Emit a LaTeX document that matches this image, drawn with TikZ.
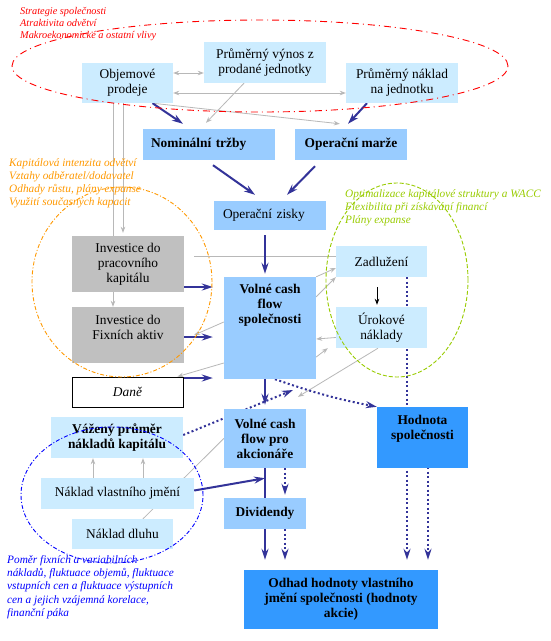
\documentclass[tikz,border=0pt]{standalone}
\usepackage{fontspec}
\setmainfont{Liberation Serif}
\usetikzlibrary{arrows.meta,calc,backgrounds}
\definecolor{lblue}{HTML}{CCECFF}
\definecolor{mblue}{HTML}{99CCFF}
\definecolor{dblue}{HTML}{3399FF}
\definecolor{gbox}{HTML}{C0C0C0}
\definecolor{lgray}{HTML}{B8B8B8}
\definecolor{navy}{HTML}{333399}
\definecolor{orng}{HTML}{FF9900}
\definecolor{lgreen}{HTML}{99CC00}
\newcommand\mf{\fontsize{13.4}{15}\selectfont}
\newcommand\mfb{\fontsize{13.4}{15}\selectfont\bfseries}
\newcommand\notef{\fontsize{11.3}{13.3}\selectfont\itshape}
\newcommand\noter{\fontsize{10.3}{12}\selectfont\itshape}
\begin{document}
\begin{tikzpicture}[x=1pt,y=-1pt,
  box/.style={inner sep=0pt, align=center, font=\mf},
  lb/.style={box, fill=lblue},
  mb/.style={box, fill=mblue, font=\mfb},
  db/.style={box, fill=dblue, font=\mfb},
  gb/.style={box, fill=gbox},
  sz/.style 2 args={minimum width=#1, minimum height=#2},
  note/.style={inner sep=0pt, align=left, anchor=north west, font=\notef},
  gline/.style={draw=lgray, line width=0.8pt},
  garr/.style={gline, -{Stealth[length=6pt,width=4.5pt]}},
  gdbl/.style={gline, {Stealth[length=6pt,width=4.5pt]}-{Stealth[length=6pt,width=4.5pt]}},
  barr/.style={draw=navy, line width=2pt, -{Stealth[length=11pt,width=7pt]}},
  bdot/.style={draw=navy, line width=2pt, dash pattern=on 2pt off 2.5pt, -{Stealth[length=11pt,width=7pt]}},
]
\useasboundingbox (0,0) rectangle (550,641);

% boxes
\node[lb, sz={91}{40}] (obj) at (127.5,83) {Objemové\\prodeje};
\node[lb, sz={122}{41}] (vynos) at (265,62.5) {Průměrný výnos z\\prodané jednotky};
\node[lb, sz={112}{40}] (naklad) at (402,83) {Průměrný náklad\\na jednotku};
\node[mb, inner xsep=8pt, text width=116pt, align=left, minimum height=31] (trzby) at (209,144.5) {Nominální tržby};
\node[mb, sz={112}{31}] (marze) at (351,144.5) {Operační marže};
\node[mb, font=\mf, inner xsep=9pt, text width=94pt, align=left, minimum height=29] (zisky) at (270,215.5) {Operační zisky};
\node[mb, sz={92}{102}] (vcf) at (270,328) {};
\node[box, font=\mfb] (vcft) at (270,305.5) {Volné cash\\flow\\společnosti};
\node[gb, sz={112}{56}] (prac) at (128,264) {Investice do\\pracovního\\kapitálu};
\node[gb, sz={112}{56}] (fix) at (128,335) {};
\node[box] (fixt) at (128,327.5) {Investice do\\Fixních aktiv};
\node[box, draw=black, fill=white, line width=0.8pt, sz={111}{30}, font=\mf\itshape] (dane) at (127.5,392) {Daně};
\node[lb, sz={91}{31}] (zadl) at (381.5,261.5) {Zadlužení};
\node[lb, sz={91}{41}] (urok) at (381.5,327.5) {Úrokové\\náklady};
\node[db, sz={91}{61}] (hodn) at (422.5,437.5) {};
\node[box, font=\mfb] (hodnt) at (422.5,428.5) {Hodnota\\společnosti};
\node[mb, sz={82}{59}] (akc) at (265,438.5) {Volné cash\\flow pro\\akcionáře};
\node[mb, sz={82}{31}] (divi) at (265,513.5) {Dividendy};
\node[db, sz={194}{59}] (odhad) at (341,599.5) {Odhad hodnoty vlastního\\jmění společnosti (hodnoty\\akcie)};
\node[lb, font=\mfb, sz={132}{41}] (wacc) at (117,437.5) {Vážený průměr\\nákladů kapitálu};
\node[lb, sz={153}{31}] (vlast) at (117.5,493.5) {Náklad vlastního jmění};
\node[lb, sz={101}{30}] (dluh) at (122.5,534) {Náklad dluhu};
\coordinate (disc) at (293,390);

\begin{pgfonlayer}{background}
\fill[white] (0,0) rectangle (550,641);
% gray connectors
\draw[gdbl] ([yshift=10pt]obj.east) -- ([yshift=10pt]obj.east -| vynos.west);
\draw[gdbl] ([yshift=-10pt]obj.east) -- ([yshift=-10pt]obj.east -| naklad.west);
\draw[garr] ([xshift=-21pt]vynos.south) -- ([xshift=-3pt,yshift=6pt]trzby.north);
\draw[garr] ([xshift=25pt]obj.south) -- ([xshift=45pt,yshift=5pt]marze.north west);
\draw[garr] ([xshift=-14.5pt]obj.south) -- ([xshift=-14.5pt]obj.south |- fix.north);
\draw[garr] ([xshift=-4.5pt]obj.south) -- ([xshift=-4.5pt,yshift=3pt]obj.south |- prac.north);
\draw[garr] ([xshift=10pt,yshift=8pt]prac.east) -- ([xshift=10pt,yshift=8pt]prac.east -| zadl.west);
\draw[garr] (vcf.north east) -- ([yshift=-6.5pt]zadl.west);
\draw[garr] ([yshift=-20pt]vcf.north east) -- (zadl.south west);
\draw[garr] ([yshift=-10pt]urok.west) -- ([yshift=-11pt]vcf.east);
\draw[garr] ([yshift=-29pt]vcf.east) -- ([xshift=-8pt]urok.south west);
\draw[garr] ([xshift=-3.5pt]urok.south) -- ([xshift=33pt,yshift=12pt]akc.north);
\draw[garr] ([yshift=6pt]vcf.west) -- ([xshift=10pt]fix.east);
\draw[garr] ([yshift=-35pt]vcf.west) -- ([xshift=-6pt]dane.north east);
\draw[gline] ([xshift=20.5pt]dluh.north) -- (akc.west);
\draw[garr] ([xshift=-24.5pt]vlast.north) -- ([xshift=-24.5pt]vlast.north |- wacc.south);
\draw[garr] ([xshift=25.5pt]vlast.north) -- ([xshift=25.5pt]vlast.north |- wacc.south);
% navy connectors
\draw[barr] ([xshift=25pt]obj.south) -- ([xshift=-26pt,yshift=5pt]trzby.north);
\draw[barr] ([xshift=-35pt]naklad.south) -- ([xshift=-3pt,yshift=5pt]marze.north);
\draw[barr] ([xshift=4pt,yshift=-5pt]trzby.south) -- ([xshift=-15pt,yshift=6pt]zisky.north);
\draw[barr] ([xshift=-36pt,yshift=-6pt]marze.south) -- ([xshift=17pt,yshift=6pt]zisky.north);
\draw[barr] ([xshift=-5pt,yshift=-5pt]zisky.south) -- ([xshift=-5pt,yshift=3pt]vcf.north);
\draw[barr, shorten >=11pt] ([yshift=-23pt]prac.east) -- ([yshift=-23pt]prac.east -| vcf.west);
\draw[barr, shorten >=11pt] ([yshift=-2pt]fix.east) -- ([yshift=-2pt]fix.east -| vcf.west);
\draw[barr, shorten >=11pt] ([yshift=14pt]dane.east) -- ([yshift=14pt]dane.east -| vcf.west);
\draw[barr, shorten >=4pt] ([xshift=-5pt]vcf.south) -- (akc.north);
\draw[barr, shorten >=10pt] (akc.south) -- (akc.south |- odhad.north);
\draw[barr] ([yshift=3pt]vlast.east) -- ([yshift=-10pt]akc.south);
\draw[bdot, shorten >=3pt] ([xshift=20pt]akc.south) -- ([xshift=20pt]akc.south |- divi.north);
\draw[bdot, shorten >=10pt] ([xshift=20pt]divi.south) -- ([xshift=20pt]divi.south |- odhad.north);
\draw[bdot, shorten >=10pt] ([xshift=25.5pt]zadl.south) -- ([xshift=25.5pt]zadl.south |- odhad.north);
\draw[bdot, line width=2.6pt, shorten >=10pt] ([xshift=5.5pt,yshift=10pt]hodn.south) -- ([xshift=5.5pt]hodn.south |- odhad.north);
\draw[bdot] ([xshift=5pt]vcf.south) to[bend right=4] (hodn.north west);
\draw[bdot] ([yshift=2.5pt]wacc.east) -- (disc);
\draw[black, line width=0.8pt, -{Stealth[length=6pt,width=4.5pt]}] ([xshift=-4.5pt,yshift=-10pt]zadl.south) -- ([xshift=-4.5pt,yshift=2pt]urok.north);
\end{pgfonlayer}

% ellipses
\draw[red, line width=0.9pt, dash pattern=on 7pt off 4pt on 1pt off 4pt] (260,66) ellipse [x radius=248pt, y radius=46pt];
\draw[orng, line width=0.9pt, dash pattern=on 4pt off 2pt on 1pt off 2pt] (122,282) ellipse [x radius=90pt, y radius=95pt];
\draw[lgreen, line width=0.9pt, dash pattern=on 4pt off 2pt] (397,280) ellipse [x radius=71pt, y radius=97pt];
\draw[blue, line width=0.9pt, dash pattern=on 4pt off 2pt on 1pt off 2pt] (112,495) ellipse [x radius=91pt, y radius=68pt];

% notes
\node[note, font=\noter, text=red] (nred) at (20,7) {Strategie společnosti\\Atraktivita odvětví\\Makroekonomické a ostatní vlivy};
\node[note, text=orng] (norg) at (9,158) {Kapitálová intenzita odvětví\\Vztahy odběratel/dodavatel\\Odhady růstu, plány expanse\\Využití současných kapacit};
\node[note, text=lgreen] (ngrn) at (345,189) {Optimalizace kapitálové struktury a WACC\\Flexibilita při získávání financí\\Plány expanse};
\node[note, text=blue] (nblu) at (7,555) {Poměr fixních a variabilních\\nákladů, fluktuace objemů, fluktuace\\vstupních cen a fluktuace výstupních\\cen a jejich vzájemná korelace,\\finanční páka};
\end{tikzpicture}
\end{document}
